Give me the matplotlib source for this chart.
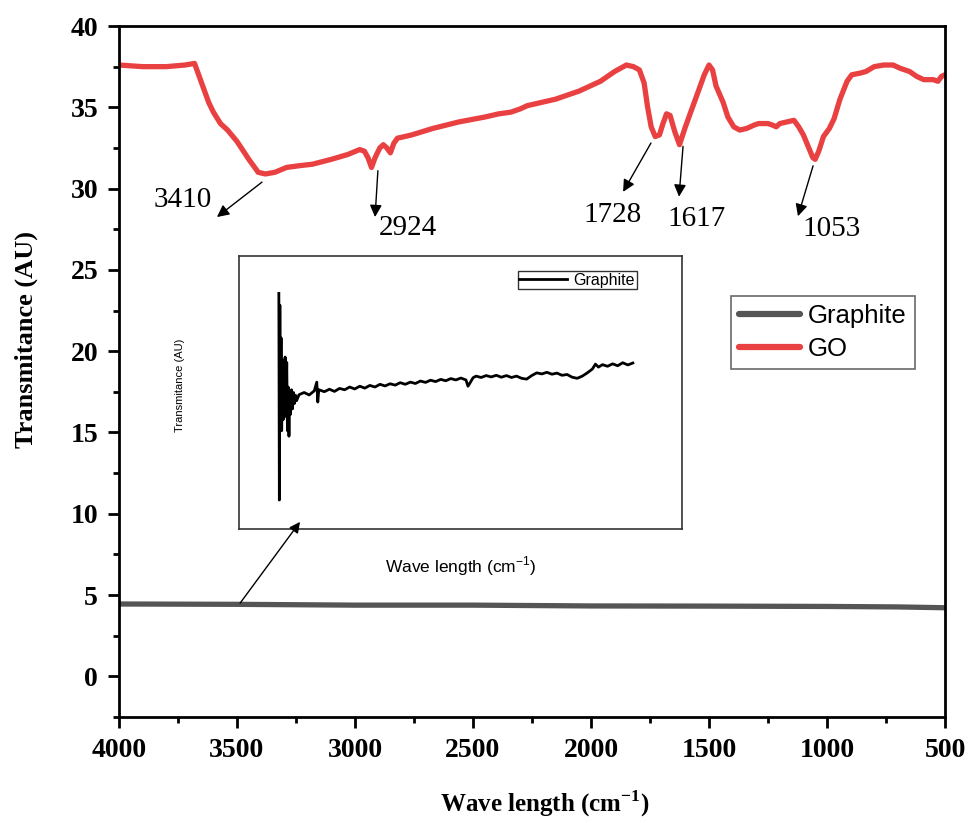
import numpy as np
import matplotlib
matplotlib.use("Agg")
import matplotlib.pyplot as plt
from matplotlib.ticker import MultipleLocator

plt.rcParams['font.family'] = ['Liberation Serif', 'DejaVu Serif']
plt.rcParams['mathtext.fontset'] = 'custom'
plt.rcParams['mathtext.rm'] = 'Liberation Serif'
plt.rcParams['mathtext.bf'] = 'Liberation Serif:bold'
plt.rcParams['mathtext.sf'] = 'Liberation Sans'

# GO spectrum (wavenumber, transmittance)
go_wn = [4000, 3900, 3800, 3720, 3680, 3650, 3620, 3600, 3570, 3540, 3500, 3450,
         3410, 3380, 3340, 3290, 3240, 3180, 3100, 3030, 2980, 2960, 2945, 2930,
         2915, 2895, 2880, 2865, 2850, 2835, 2820, 2760, 2670, 2560, 2450, 2390,
         2340, 2300, 2270, 2150, 2050, 1960, 1900, 1850, 1820, 1795, 1775, 1760,
         1745, 1728, 1710, 1695, 1680, 1665, 1645, 1625, 1600, 1560, 1520, 1500,
         1485, 1470, 1440, 1420, 1395, 1370, 1340, 1310, 1290, 1250, 1230, 1215,
         1200, 1170, 1140, 1120, 1100, 1080, 1060, 1050, 1035, 1015, 990, 970,
         945, 915, 895, 860, 835, 800, 760, 720, 690, 650, 620, 590, 550, 530,
         515, 500]
go_t = [37.6, 37.5, 37.5, 37.6, 37.7, 36.5, 35.3, 34.7, 34.0, 33.6, 32.9, 31.8,
        31.0, 30.9, 31.0, 31.3, 31.4, 31.5, 31.8, 32.1, 32.4, 32.3, 31.9, 31.3,
        31.9, 32.5, 32.7, 32.5, 32.2, 32.8, 33.1, 33.3, 33.7, 34.1, 34.4, 34.6,
        34.7, 34.9, 35.1, 35.5, 36.0, 36.6, 37.2, 37.6, 37.5, 37.3, 36.5, 35.0,
        33.8, 33.2, 33.3, 34.0, 34.6, 34.5, 33.5, 32.7, 33.8, 35.4, 37.0, 37.6,
        37.3, 36.3, 35.3, 34.4, 33.8, 33.6, 33.7, 33.9, 34.0, 34.0, 33.9, 33.8,
        34.0, 34.1, 34.2, 33.8, 33.3, 32.6, 31.9, 31.8, 32.3, 33.2, 33.7, 34.3,
        35.5, 36.6, 37.0, 37.1, 37.2, 37.5, 37.6, 37.6, 37.4, 37.2, 36.9, 36.7,
        36.7, 36.6, 36.9, 37.0]

# Graphite spectrum on the main scale
gr_wn = [4000, 3500, 3000, 2500, 2000, 1500, 1000, 700, 500]
gr_t = [4.45, 4.43, 4.38, 4.38, 4.33, 4.32, 4.30, 4.27, 4.22]

# Graphite spectrum for the inset (arbitrary units)
ins_wn = [4000, 3995, 3990, 3985, 3978, 3972, 3965, 3958, 3952, 3945, 3938, 3930,
          3922, 3915, 3908, 3900, 3893, 3885, 3875, 3865, 3855, 3845, 3835, 3825,
          3800, 3750, 3700, 3650, 3625, 3615, 3605, 3550, 3500, 3450, 3400, 3350,
          3300, 3250, 3200, 3150, 3100, 3050, 3000, 2950, 2900, 2850, 2800, 2750,
          2700, 2650, 2600, 2550, 2500, 2450, 2400, 2350, 2300, 2250, 2200, 2150,
          2130, 2110, 2080, 2050, 2000, 1950, 1900, 1850, 1800, 1750, 1700, 1650,
          1600, 1550, 1500, 1450, 1400, 1350, 1300, 1250, 1200, 1150, 1100, 1050,
          1000, 950, 900, 870, 840, 800, 750, 700, 650, 600, 550, 500]
ins_t = [86.3, 10.6, 82.0, 38.0, 70.0, 36.0, 62.0, 40.0, 58.0, 41.0, 63.0, 43.0,
         61.0, 36.0, 52.0, 34.0, 50.0, 42.0, 51.0, 44.0, 50.0, 46.0, 49.0, 47.0,
         49.2, 50.0, 49.1, 50.6, 53.8, 46.5, 51.0, 50.3, 51.2, 50.4, 51.5, 51.0,
         52.0, 51.3, 52.3, 51.6, 52.6, 52.0, 53.0, 52.4, 53.2, 52.7, 53.6, 53.0,
         53.8, 53.3, 54.2, 53.7, 54.5, 54.0, 54.8, 54.3, 55.1, 54.6, 55.3, 54.6,
         52.3, 53.5, 55.4, 56.0, 55.5, 56.2, 55.7, 56.3, 55.6, 56.2, 55.5, 56.0,
         55.2, 54.9, 56.2, 57.2, 56.8, 57.4, 56.7, 57.1, 56.3, 56.6, 55.6, 55.2,
         56.0, 57.2, 58.6, 60.4, 59.3, 60.2, 59.6, 60.5, 59.8, 60.9, 60.1, 60.8]

# Peak labels: (peak, arrow tail, arrow head, text position)
peak_labels = ['3410', '2924', '1728', '1617', '1053']
peak_tail = [(3394, 30.4), (2903, 31.1), (1746, 32.8), (1610, 32.6), (1059, 31.4)]
peak_head = [(3585, 28.25), (2915, 28.25), (1864, 29.8), (1627, 29.5), (1123, 28.3)]
peak_text = [(3729, 29.3), (2775, 27.6), (1910, 28.4), (1551, 28.1), (979, 27.5)]

fig = plt.figure(figsize=(9.69, 8.23), dpi=100)
ax = fig.add_axes([119 / 969, 1 - 717 / 823, 826 / 969, 691 / 823])

ax.plot(gr_wn, gr_t, color='#555555', lw=3.8, label='Graphite', solid_capstyle='round')
ax.plot(go_wn, go_t, color='#e94141', lw=3.8, label='GO', solid_capstyle='round')

ax.set_xlim(4000, 500)
ax.set_ylim(-2.5, 40)
ax.xaxis.set_major_locator(MultipleLocator(500))
ax.xaxis.set_minor_locator(MultipleLocator(250))
ax.yaxis.set_major_locator(MultipleLocator(5))
ax.yaxis.set_minor_locator(MultipleLocator(2.5))
ax.tick_params(which='major', direction='out', length=8, width=2, pad=7, labelsize=20)
ax.tick_params(which='minor', direction='out', length=4.5, width=2)
for lab in ax.get_xticklabels() + ax.get_yticklabels():
    lab.set_fontweight('bold')
for s in ax.spines.values():
    s.set_linewidth(2)

ax.set_ylabel('Transmitance (AU)', fontsize=19, fontweight='bold')
ax.yaxis.set_label_coords(-0.098, 0.546)
ax.set_xlabel(r'Wave length (cm$^{\mathbf{-1}}$)', fontsize=18, fontweight='bold')
ax.xaxis.set_label_coords(0.516, -0.103)

for lab, tail, head, txt in zip(peak_labels, peak_tail, peak_head, peak_text):
    ax.annotate('', xy=head, xytext=tail,
                arrowprops=dict(arrowstyle='-|>', color='black', lw=1,
                                mutation_scale=18, shrinkA=0, shrinkB=0))
    ax.text(txt[0], txt[1], lab, fontsize=21, ha='center', va='center')

leg = ax.legend(loc='upper left', bbox_to_anchor=(0.741, 0.609),
                prop={'family': 'Liberation Sans', 'size': 18.5},
                frameon=True, fancybox=False, edgecolor='#444444', borderpad=0.3,
                handlelength=2.4, handletextpad=0.3, labelspacing=0.35,
                borderaxespad=0)
leg.get_frame().set_linewidth(1.2)
for h in leg.get_lines():
    h.set_linewidth(4.5)

# inset with the graphite spectrum
axin = fig.add_axes([239 / 969, 1 - 529 / 823, 443 / 969, 273 / 823])
axin.plot(ins_wn, ins_t, color='black', lw=2.0, label='Graphite')
axin.set_xlim(4394, 14)
axin.set_ylim(0, 100)
axin.set_xticks([])
axin.set_yticks([])
for s in axin.spines.values():
    s.set_linewidth(1.2)
    s.set_color('#333333')
lg2 = axin.legend(loc='upper left', bbox_to_anchor=(0.629, 0.945),
                  prop={'family': 'Liberation Sans', 'size': 11.5},
                  frameon=True, fancybox=False, edgecolor='black', borderpad=0.1,
                  handlelength=3.0, handletextpad=0.4, borderaxespad=0)
lg2.get_frame().set_linewidth(1.0)

# arrow from the flat graphite line up to the inset, drawn above the inset frame
axin.annotate('', xy=(3233, 9.5), xycoords=ax.transData,
              xytext=(3487, 4.5), textcoords=ax.transData, annotation_clip=False,
              arrowprops=dict(arrowstyle='-|>', color='black', lw=1,
                              mutation_scale=16, shrinkA=0, shrinkB=0))

fig.text(180 / 969, 1 - 385 / 823, 'Transmitance (AU)', rotation=90,
         family='Liberation Sans', fontsize=8, ha='center', va='center')
fig.text(461 / 969, 1 - 566 / 823, r'Wave length (cm$^{\mathsf{-1}}$)',
         family='Liberation Sans', fontsize=12.5, ha='center', va='center')

fig.savefig('out.png', dpi=100)
